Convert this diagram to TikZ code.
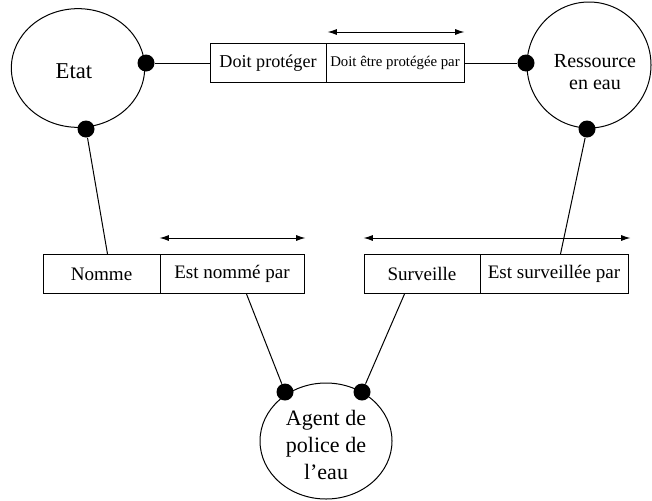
\documentclass[tikz,border=0pt]{standalone}
\usepackage{fontspec}
\setmainfont{Liberation Serif}
\usetikzlibrary{shapes.geometric,arrows.meta,calc}

\tikzset{every picture/.style={line width=0.75pt}}

\begin{document}
\begin{tikzpicture}[x=0.75pt,y=0.75pt,yscale=-1,xscale=1,
	>={Latex[length=7pt,width=4.5pt]},
	entity/.style={draw,ellipse,inner sep=0pt},
	entitytext/.style={inner sep=0pt,align=center},
	role/.style={draw,rectangle,inner sep=0pt,minimum height=29.25pt},
	knot/.style={circle,fill=black,inner sep=0pt,minimum size=12.75pt}]
	\useasboundingbox (0,0) rectangle (652,500);
	%Shape: Ellipse [id:etat]
	\node [entity,minimum width=100pt,minimum height=89pt] (etat) at (78,68) {};
	\node [entitytext,font=\fontsize{17}{20}\selectfont] (etattext) at ($(etat)+(-4,3)$) {Etat};
	%Shape: Ellipse [id:ressource]
	\node [entity,minimum width=93pt,minimum height=94.5pt] (ressource) at (589,65) {};
	\node [entitytext,font=\fontsize{15}{16.3}\selectfont] (ressourcetext) at ($(ressource)+(6,7)$) {Ressource\\en eau};
	%Shape: Ellipse [id:agent]
	\node [entity,minimum width=99pt,minimum height=87pt] (agent) at (326,441) {};
	\node [entitytext,font=\fontsize{16.5}{20.5}\selectfont] (agenttext) at ($(agent)+(0,4)$) {Agent de\\police de\\l’eau};
	
	%Shape: Rectangle [id:doit]
	\node [role,minimum width=87pt,font=\fontsize{13.6}{16}\selectfont] (doit) at (268,63) {Doit protéger};
	\node [role,minimum width=103.5pt,font=\fontsize{11.1}{13}\selectfont] (doitpar) at (395,63) {Doit être protégée par};
	%Shape: Rectangle [id:nomme]
	\node [role,minimum width=87.75pt,font=\fontsize{14.3}{16}\selectfont] (nomme) at (101.5,274) {Nomme};
	\node [role,minimum width=108pt,font=\fontsize{14.3}{16}\selectfont] (nommepar) at (232,274) {Est nommé par};
	%Shape: Rectangle [id:surv]
	\node [role,minimum width=87pt,font=\fontsize{14.3}{16}\selectfont] (surv) at (422,274) {Surveille};
	\node [role,minimum width=111pt,font=\fontsize{14.3}{16}\selectfont] (survpar) at (554,274) {Est surveillée par};
	
	%Shape: Circle [id:knots]
	\node [knot] (k1) at (146,63) {};
	\node [knot] (k2) at (86,129) {};
	\node [knot] (k3) at (526,63) {};
	\node [knot] (k4) at (587,129) {};
	\node [knot] (k5) at (285,392) {};
	\node [knot] (k6) at (362,392) {};
	
	%Straight Lines [id:links]
	\draw (k1) -- (doit.west);
	\draw (doitpar.east) -- (k3);
	\draw (k2) -- ($(nomme.north west)+(65,0)$);
	\draw (k4) -- ($(survpar.north west)+(81,0)$);
	\draw ($(nommepar.south west)+(87,0)$) -- (k5);
	\draw ($(surv.south west)+(41,0)$) -- (k6);
	
	%Straight Lines [id:arrows]
	\draw [<->] ($(doitpar.north west)+(2,-11)$) -- ($(doitpar.north east)+(0,-11)$);
	\draw [<->] ($(nommepar.north west)+(0,-16)$) -- ($(nommepar.north east)+(1,-16)$);
	\draw [<->] ($(surv.north west)+(0,-16)$) -- ($(survpar.north east)+(2,-16)$);
\end{tikzpicture}
\end{document}
